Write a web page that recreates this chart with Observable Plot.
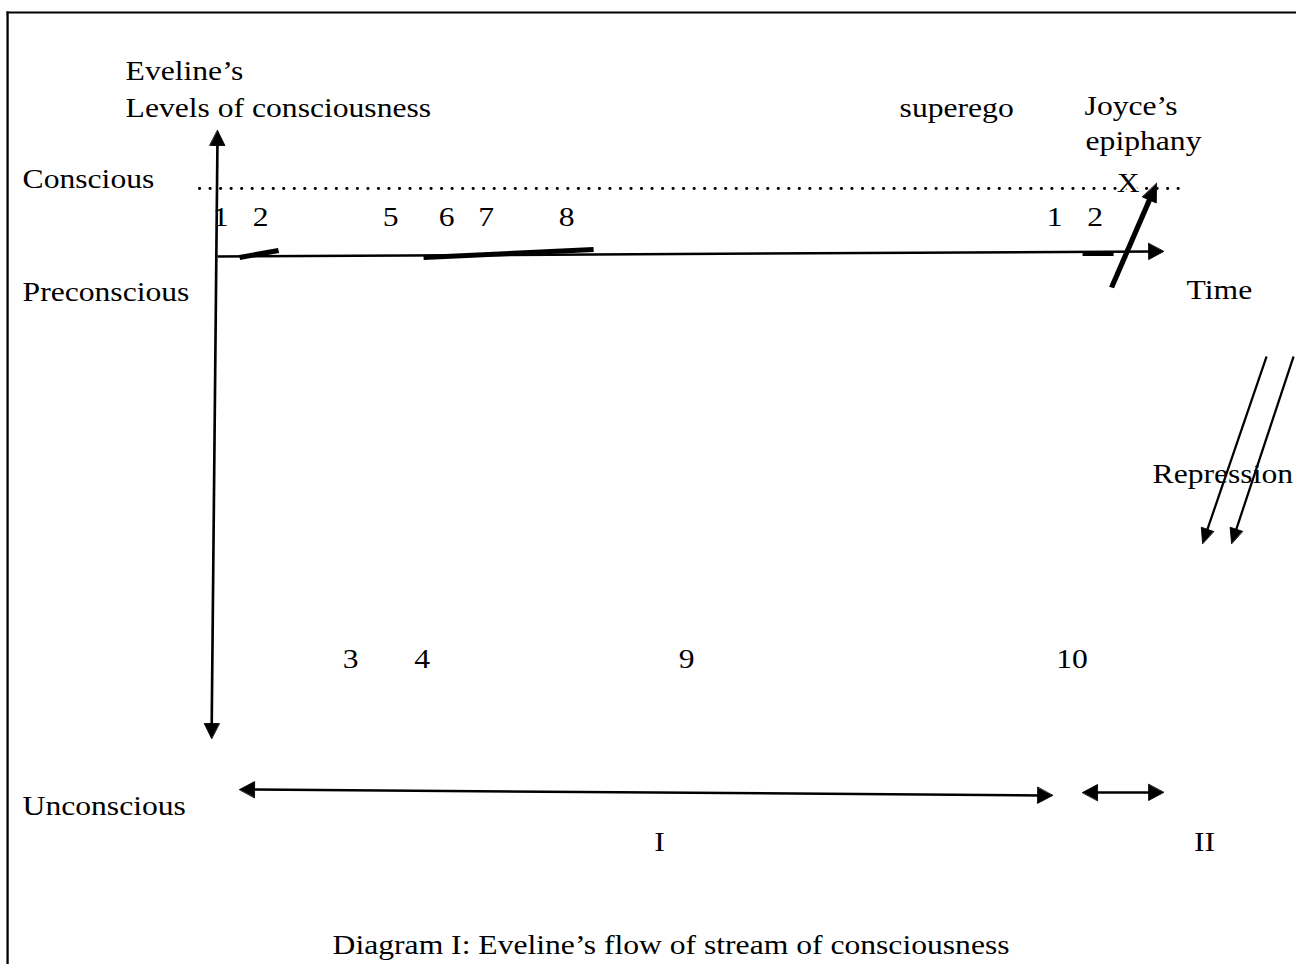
<!DOCTYPE html>
<html>
<head>
<meta charset="utf-8">
<script src="https://cdn.jsdelivr.net/npm/d3@7"></script>
<script src="https://cdn.jsdelivr.net/npm/@observablehq/plot@0.6"></script>
<style>
  html, body { margin: 0; padding: 0; background: #fff; }
  #chart svg { display: block; }
</style>
</head>
<body>
<div id="chart"></div>
<script>
// ---- Diagram content (coordinates, in picture pixels) ----
const levelLabels = [
  {label: "Conscious",    x: 22, y: 179},
  {label: "Preconscious", x: 22, y: 292},
  {label: "Unconscious",  x: 22, y: 806}
];
const headingLabels = [
  {label: "Eveline\u2019s",            x: 125,  y: 71},
  {label: "Levels of consciousness",   x: 125,  y: 108},
  {label: "superego",                  x: 899,  y: 108},
  {label: "Joyce\u2019s",              x: 1084, y: 106},
  {label: "epiphany",                  x: 1085, y: 141},
  {label: "Time",                      x: 1186, y: 290},
  {label: "Repression",                x: 1152, y: 474}
];
const episodeNumbers = [
  {n: "1", x: 220,  y: 217}, {n: "2", x: 260,  y: 217},
  {n: "5", x: 390,  y: 217}, {n: "6", x: 446,  y: 217},
  {n: "7", x: 485.5,y: 217}, {n: "8", x: 566,  y: 217},
  {n: "1", x: 1054, y: 217}, {n: "2", x: 1094.5,y: 217},
  {n: "3", x: 350,  y: 659}, {n: "4", x: 421.5,y: 659},
  {n: "9", x: 686,  y: 659}, {n: "10", x: 1071.5, y: 659}
];
const epiphanyMark = [{label: "X", x: 1127.5, y: 183}];
const partLabels = [
  {label: "I",  x: 659,  y: 842},
  {label: "II", x: 1204, y: 842}
];
const captionText = [{label: "Diagram I: Eveline\u2019s flow of stream of consciousness", x: 670.5, y: 945}];

const frame = [
  {x1: 7, y1: 12, x2: 1296, y2: 12},
  {x1: 7, y1: 12, x2: 7,    y2: 964}
];
const consciousThreshold = [{x1: 199, y1: 188, x2: 1184, y2: 188}];
const levelAxis = [{x1: 211, y1: 738, x2: 217, y2: 130}];           // double-headed
const timeAxis  = [{x1: 217, y1: 256, x2: 1163, y2: 251}];          // head at end
const episodeBars = [
  {x1: 239,  y1: 257, x2: 278,  y2: 250},
  {x1: 423,  y1: 257, x2: 593,  y2: 249},
  {x1: 1082, y1: 253, x2: 1113, y2: 253}
];
const epiphanyArrow = [{x1: 1111, y1: 287, x2: 1156, y2: 183}];     // head at end
const repressionArrows = [
  {x1: 1266, y1: 356, x2: 1202, y2: 543},
  {x1: 1293, y1: 356, x2: 1231, y2: 543}
];
const partSpans = [
  {x1: 239,  y1: 789, x2: 1052, y2: 795},
  {x1: 1082, y1: 792, x2: 1163, y2: 792}
];                                                                  // double-headed

// ---- helpers: arrow heads as filled triangles, shafts trimmed under heads ----
let headId = 0;
function headsFor(arr, L, Wd, both) {
  const pts = [];
  for (const a of arr) {
    const ends = both ? [[a.x1, a.y1, a.x2, a.y2], [a.x2, a.y2, a.x1, a.y1]] : [[a.x1, a.y1, a.x2, a.y2]];
    for (const [x1, y1, x2, y2] of ends) {
      const dx = x2 - x1, dy = y2 - y1, len = Math.hypot(dx, dy);
      const ux = dx / len, uy = dy / len, nx = -uy, ny = ux, id = headId++;
      pts.push({id, x: x2, y: y2});
      pts.push({id, x: x2 - L * ux + Wd / 2 * nx, y: y2 - L * uy + Wd / 2 * ny});
      pts.push({id, x: x2 - L * ux - Wd / 2 * nx, y: y2 - L * uy - Wd / 2 * ny});
    }
  }
  return pts;
}
function trim(arr, L, both) {
  return arr.map(a => {
    const dx = a.x2 - a.x1, dy = a.y2 - a.y1, len = Math.hypot(dx, dy);
    const ux = dx / len, uy = dy / len, t = L * 0.6;
    return {
      x1: both ? a.x1 + ux * t : a.x1, y1: both ? a.y1 + uy * t : a.y1,
      x2: a.x2 - ux * t, y2: a.y2 - uy * t
    };
  });
}

const heads = [
  ...headsFor(levelAxis, 15, 15, true),
  ...headsFor(timeAxis, 15, 16, false),
  ...headsFor(epiphanyArrow, 18, 15, false),
  ...headsFor(repressionArrows, 15, 13, false),
  ...headsFor(partSpans, 15, 16, true)
];

// The original glyphs are about 15% wider than their height implies:
// draw in a narrower coordinate space and stretch the SVG horizontally.
const W = 1296, H = 964, SX = 1.15, innerW = W / SX;
const FS = 27.5;

const chart = Plot.plot({
  width: innerW, height: H, margin: 0,
  x: {domain: [0, W], range: [0, innerW], axis: null},
  y: {domain: [0, H], range: [0, H], axis: null},
  style: {fontFamily: "'Liberation Serif', 'Times New Roman', serif", background: "#fff", color: "#000", overflow: "visible"},
  marks: [
    Plot.link(frame, {x1: "x1", y1: "y1", x2: "x2", y2: "y2", stroke: "#000", strokeWidth: 2, strokeLinecap: "square"}),
    Plot.link(consciousThreshold, {x1: "x1", y1: "y1", x2: "x2", y2: "y2", stroke: "#000", strokeWidth: 2.8, strokeLinecap: "round", strokeDasharray: "0 9.15"}),
    Plot.link(trim(levelAxis, 15, true), {x1: "x1", y1: "y1", x2: "x2", y2: "y2", stroke: "#000", strokeWidth: 2.3}),
    Plot.link(trim(timeAxis, 15, false), {x1: "x1", y1: "y1", x2: "x2", y2: "y2", stroke: "#000", strokeWidth: 2.5}),
    Plot.link(episodeBars, {x1: "x1", y1: "y1", x2: "x2", y2: "y2", stroke: "#000", strokeWidth: 5}),
    Plot.link(trim(epiphanyArrow, 18, false), {x1: "x1", y1: "y1", x2: "x2", y2: "y2", stroke: "#000", strokeWidth: 4.6}),
    Plot.link(trim(repressionArrows, 15, false), {x1: "x1", y1: "y1", x2: "x2", y2: "y2", stroke: "#000", strokeWidth: 2}),
    Plot.link(trim(partSpans, 15, true), {x1: "x1", y1: "y1", x2: "x2", y2: "y2", stroke: "#000", strokeWidth: 2.5}),
    Plot.line(heads, {x: "x", y: "y", z: "id", curve: "linear-closed", fill: "#000", stroke: "#000", strokeWidth: 0.8}),
    Plot.text(levelLabels, {x: "x", y: "y", text: "label", textAnchor: "start", fontSize: FS, fill: "#000"}),
    Plot.text(headingLabels, {x: "x", y: "y", text: "label", textAnchor: "start", fontSize: FS, fill: "#000"}),
    Plot.text(episodeNumbers, {x: "x", y: "y", text: "n", textAnchor: "middle", fontSize: FS, fill: "#000"}),
    Plot.text(epiphanyMark, {x: "x", y: "y", text: "label", textAnchor: "middle", fontSize: FS, fill: "#000", stroke: "#fff", strokeWidth: 4}),
    Plot.text(partLabels, {x: "x", y: "y", text: "label", textAnchor: "middle", fontSize: FS, fill: "#000"}),
    Plot.text(captionText, {x: "x", y: "y", text: "label", textAnchor: "middle", fontSize: FS, fill: "#000"})
  ]
});
chart.setAttribute("width", W);
chart.setAttribute("height", H);
chart.setAttribute("preserveAspectRatio", "none");
chart.style.width = W + "px";
chart.style.height = H + "px";
chart.style.maxWidth = "none";
document.getElementById("chart").appendChild(chart);
</script>
</body>
</html>
